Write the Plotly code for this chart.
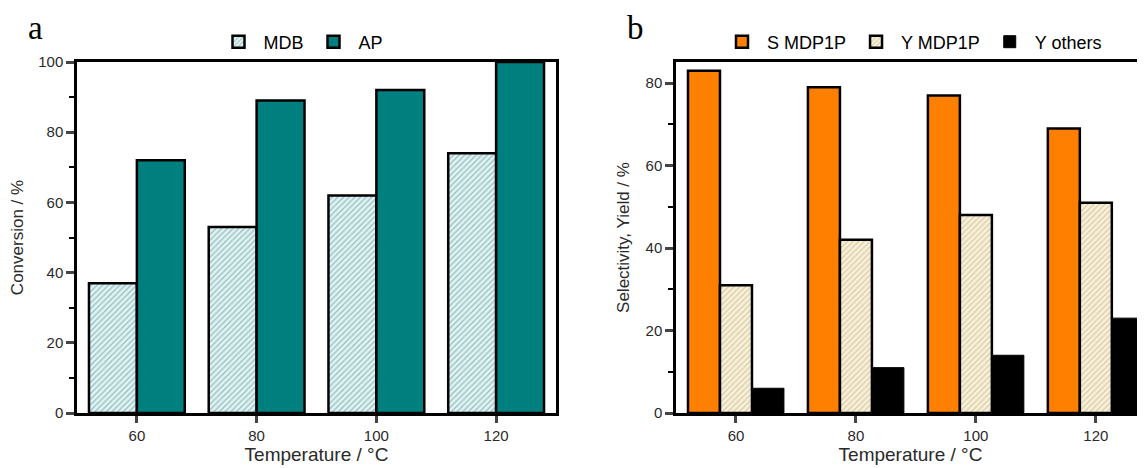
import plotly.graph_objects as go

temps = [60, 80, 100, 120]
mdb = [37, 53, 62, 74]
ap = [72, 89, 92, 100]
s_mdp1p = [83, 79, 77, 69]
y_mdp1p = [31, 42, 48, 51]
y_others = [6, 11, 14, 23]

FONT = "Liberation Sans, Arial, sans-serif"
SERIF = "Liberation Serif, Times New Roman, serif"
TXT = "#2a2a2a"
W, H = 1145, 468
OFF = 8  # default page margin of the html body


def px(x):
    return (x - OFF) / W


def py(y):
    return 1 - (y - OFF) / H


fig = go.Figure()
line = dict(color="black", width=2.5)

fig.add_trace(go.Bar(x=temps, y=mdb, name="MDB", xaxis="x", yaxis="y", legend="legend",
                     marker=dict(color="#e2f2f2", line=line,
                                 pattern=dict(shape="/", fgcolor="#3f8a8a", bgcolor="#e2f2f2",
                                              size=4, solidity=0.3))))
fig.add_trace(go.Bar(x=temps, y=ap, name="AP", xaxis="x", yaxis="y", legend="legend",
                     marker=dict(color="#007f7f", line=line)))
fig.add_trace(go.Bar(x=temps, y=s_mdp1p, name="S MDP1P", xaxis="x2", yaxis="y2", legend="legend2",
                     marker=dict(color="#ff8000", line=line)))
fig.add_trace(go.Bar(x=temps, y=y_mdp1p, name="Y MDP1P", xaxis="x2", yaxis="y2", legend="legend2",
                     marker=dict(color="#f8f0d8", line=line,
                                 pattern=dict(shape="/", fgcolor="#b5a57a", bgcolor="#f8f0d8",
                                              size=4, solidity=0.3))))
fig.add_trace(go.Bar(x=temps, y=y_others, name="Y others", xaxis="x2", yaxis="y2", legend="legend2",
                     marker=dict(color="black", line=dict(color="black", width=1))))

ydom = [py(413), py(62)]
xa = dict(range=[50, 130], tickvals=temps, ticks="outside", ticklen=7, tickwidth=2.5,
          showline=True, linewidth=2.5, linecolor="black", mirror=True, showgrid=False,
          zeroline=False, automargin=False, tickfont=dict(family=FONT, size=15, color=TXT),
          title=dict(text="Temperature / °C", font=dict(family=FONT, size=19, color=TXT), standoff=3))
ya = dict(range=[0, 100], dtick=20, ticks="outside", ticklen=8, tickwidth=2.5,
          minor=dict(dtick=10, ticks="outside", ticklen=5, tickwidth=2, tickcolor="black"),
          showline=True, linewidth=2.5, linecolor="black", mirror=True, showgrid=False,
          zeroline=False, automargin=False, tickfont=dict(family=FONT, size=15, color=TXT),
          title=dict(text="Conversion / %", font=dict(family=FONT, size=17, color=TXT), standoff=12))

xa1 = dict(xa, domain=[px(77), px(556)], anchor="y")
ya1 = dict(ya, domain=ydom, anchor="x")
xa2 = dict(xa, domain=[px(676), px(1145)], anchor="y2", range=[50, 128.2])
ya2 = dict(ya, domain=ydom, anchor="x2", range=[0, 85.1], mirror=False,
           title=dict(text="Selectivity, Yield / %", font=dict(family=FONT, size=17, color=TXT), standoff=12))

legend_common = dict(orientation="h", yanchor="middle", y=py(42), xanchor="center",
                     font=dict(family=FONT, size=18, color="black"), bgcolor="rgba(0,0,0,0)",
                     itemwidth=40, tracegroupgap=0)

fig.update_layout(
    width=W, height=H,
    margin=dict(l=0, r=0, t=0, b=0, autoexpand=False),
    paper_bgcolor="white", plot_bgcolor="white",
    barmode="group", bargap=0.2, bargroupgap=0,
    xaxis=xa1, yaxis=ya1, xaxis2=xa2, yaxis2=ya2,
    legend=dict(legend_common, x=px(301)),
    legend2=dict(legend_common, x=px(912)),
    annotations=[
        dict(text="a", x=px(35), y=py(28), xref="paper", yref="paper", showarrow=False,
             xanchor="center", yanchor="middle",
             font=dict(family=SERIF, size=33, color="black")),
        dict(text="b", x=px(635), y=py(28), xref="paper", yref="paper", showarrow=False,
             xanchor="center", yanchor="middle",
             font=dict(family=SERIF, size=33, color="black")),
    ],
)

fig.write_html("out.html")
